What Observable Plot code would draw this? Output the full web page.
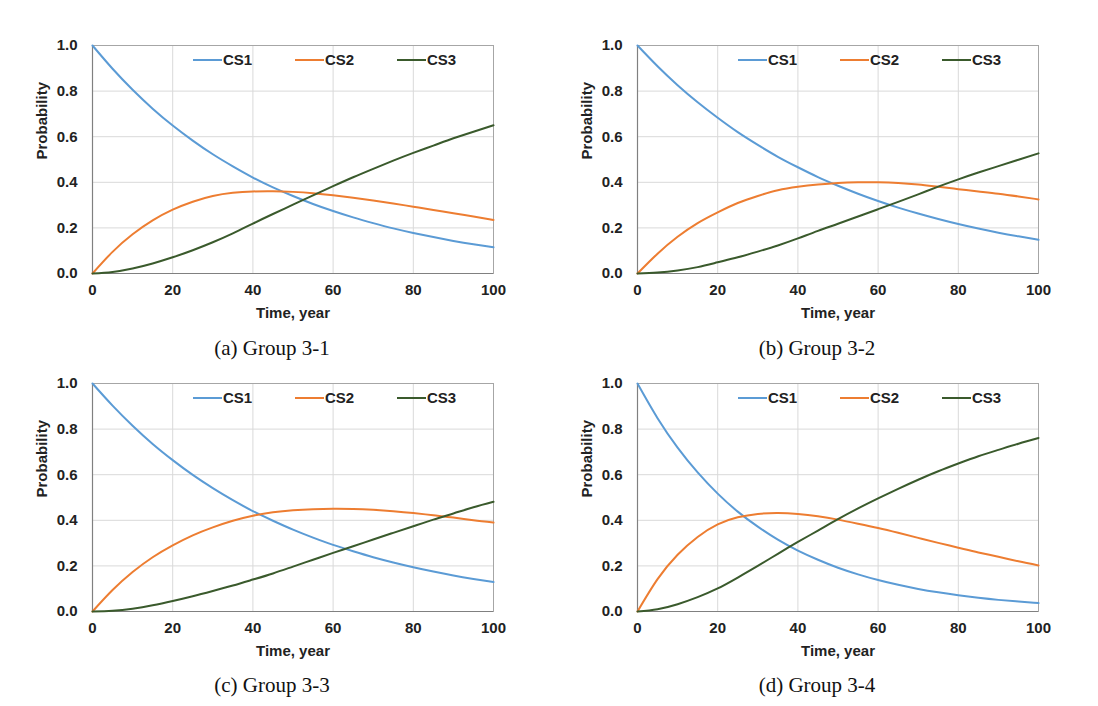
<!DOCTYPE html>
<html>
<head>
<meta charset="utf-8">
<script src="https://cdn.jsdelivr.net/npm/d3@7"></script>
<script src="https://cdn.jsdelivr.net/npm/@observablehq/plot@0.6"></script>
<style>
  html, body { margin: 0; padding: 0; background: #fff; width: 1098px; height: 706px; overflow: hidden; }
  .panel { position: absolute; }
  .panel svg text { font-weight: bold; }
  .legend { position: absolute; font-family: "Liberation Sans", Arial, sans-serif; font-size: 15px; font-weight: bold; color: #222; height: 16px; }
  .legend .item { position: absolute; top: 0; white-space: nowrap; display: flex; align-items: center; }
  .legend .sw { display: inline-block; width: 29px; height: 2px; margin-right: 1px; }
  .caption { position: absolute; font-family: "Liberation Serif", "DejaVu Serif", serif; font-size: 21px; color: #111; transform: translateX(-50%); white-space: pre; line-height: 1; }
</style>
</head>
<body>
<script>
// ---- data ----
const years = [0,5,10,15,20,25,30,35,40,45,50,55,60,65,70,75,80,85,90,95,100];
const seriesNames = ["CS1", "CS2", "CS3"];
const seriesColors = ["#5b9bd5", "#ed7d31", "#3a5a2c"];
const xTicks = [0, 20, 40, 60, 80, 100];
const yTicks = [0, 0.2, 0.4, 0.6, 0.8, 1.0];
const captions = ["(a) Group 3-1", "(b) Group 3-2", "(c) Group 3-3", "(d) Group 3-4"];

// Group 3-1
const g1_cs1 = [1.000,0.898,0.806,0.723,0.649,0.583,0.523,0.470,0.421,0.378,0.340,0.305,0.274,0.246,0.221,0.198,0.178,0.160,0.143,0.128,0.115];
const g1_cs2 = [0.000,0.095,0.172,0.233,0.280,0.315,0.340,0.354,0.360,0.361,0.358,0.352,0.343,0.332,0.320,0.307,0.293,0.279,0.264,0.250,0.235];
const g1_cs3 = [0.000,0.007,0.022,0.044,0.071,0.102,0.137,0.176,0.219,0.261,0.302,0.343,0.383,0.422,0.459,0.495,0.529,0.561,0.593,0.622,0.650];
// Group 3-2
const g2_cs1 = [1.000,0.909,0.826,0.751,0.683,0.620,0.564,0.512,0.466,0.423,0.385,0.350,0.318,0.289,0.263,0.239,0.217,0.197,0.179,0.163,0.148];
const g2_cs2 = [0.000,0.087,0.161,0.221,0.268,0.309,0.340,0.365,0.380,0.390,0.397,0.400,0.400,0.397,0.390,0.380,0.370,0.360,0.350,0.338,0.325];
const g2_cs3 = [0.000,0.004,0.013,0.028,0.049,0.071,0.096,0.123,0.154,0.187,0.218,0.250,0.282,0.314,0.347,0.381,0.413,0.443,0.471,0.499,0.527];
// Group 3-3
const g3_cs1 = [1.000,0.903,0.815,0.735,0.664,0.599,0.541,0.488,0.440,0.398,0.359,0.324,0.292,0.264,0.238,0.215,0.194,0.175,0.158,0.143,0.129];
const g3_cs2 = [0.000,0.094,0.173,0.238,0.290,0.334,0.369,0.398,0.420,0.435,0.444,0.449,0.451,0.450,0.446,0.440,0.432,0.422,0.412,0.400,0.390];
const g3_cs3 = [0.000,0.003,0.012,0.027,0.046,0.067,0.090,0.114,0.140,0.167,0.197,0.227,0.257,0.286,0.316,0.345,0.374,0.403,0.430,0.457,0.481];
// Group 3-4
const g4_cs1 = [1.000,0.848,0.719,0.610,0.517,0.438,0.372,0.315,0.267,0.227,0.192,0.163,0.138,0.117,0.099,0.084,0.071,0.060,0.051,0.044,0.037];
const g4_cs2 = [0.000,0.142,0.249,0.327,0.382,0.413,0.428,0.432,0.428,0.418,0.403,0.385,0.366,0.345,0.323,0.301,0.280,0.259,0.240,0.220,0.202];
const g4_cs3 = [0.000,0.010,0.032,0.063,0.101,0.149,0.200,0.253,0.305,0.355,0.405,0.452,0.496,0.538,0.578,0.615,0.649,0.681,0.709,0.736,0.761];

const groups = [
  [g1_cs1, g1_cs2, g1_cs3],
  [g2_cs1, g2_cs2, g2_cs3],
  [g3_cs1, g3_cs2, g3_cs3],
  [g4_cs1, g4_cs2, g4_cs3]
];

// ---- layout ----
const panelPos = [
  {left: 0,   top: 30},
  {left: 545, top: 30},
  {left: 0,   top: 368},
  {left: 545, top: 368}
];
const captionPos = [
  {x: 272, y: 338},
  {x: 817, y: 338},
  {x: 272, y: 675},
  {x: 817, y: 675}
];
const W = 520, H = 293, ML = 92, MR = 27, MT = 15, MB = 50;

groups.forEach((g, gi) => {
  const data = g.flatMap((vals, si) => years.map((t, i) => ({t, p: vals[i], series: seriesNames[si]})));
  const chart = Plot.plot({
    width: W, height: H,
    marginLeft: ML, marginRight: MR, marginTop: MT, marginBottom: MB,
    style: {fontFamily: "'Liberation Sans', Arial, sans-serif", fontSize: "15px", color: "#222", background: "white"},
    x: {domain: [0, 100]},
    y: {domain: [0, 1]},
    color: {domain: seriesNames, range: seriesColors},
    marks: [
      Plot.gridX(xTicks, {stroke: "#d9d9d9", strokeOpacity: 1}),
      Plot.gridY(yTicks, {stroke: "#d9d9d9", strokeOpacity: 1}),
      Plot.frame({stroke: "#a6a6a6"}),
      Plot.ruleY([0], {stroke: "#808080", strokeWidth: 1.2}),
      Plot.ruleX([0], {stroke: "#808080", strokeWidth: 1.2}),
      Plot.axisX(xTicks, {tickSize: 0, tickPadding: 11, label: null, fill: "#222"}),
      Plot.axisY(yTicks, {tickSize: 0, tickPadding: 15, tickFormat: d => d.toFixed(1), label: null, fill: "#222"}),
      Plot.line(data, {x: "t", y: "p", z: "series", stroke: "series", strokeWidth: 2, curve: "natural"}),
      Plot.text(["Time, year"], {frameAnchor: "bottom", lineAnchor: "middle", dy: 40, fill: "#222", fontWeight: "bold"}),
      Plot.text(["Probability"], {frameAnchor: "left", lineAnchor: "middle", dx: -50, rotate: -90, fill: "#222", fontWeight: "bold"})
    ]
  });
  const div = document.createElement("div");
  div.className = "panel";
  div.style.left = panelPos[gi].left + "px";
  div.style.top = panelPos[gi].top + "px";
  div.appendChild(chart);
  document.body.appendChild(div);

  // legend
  const leg = document.createElement("div");
  leg.className = "legend";
  leg.style.left = (panelPos[gi].left + ML + 101) + "px";
  leg.style.top = (panelPos[gi].top + MT + 6) + "px";
  seriesNames.forEach((name, si) => {
    const item = document.createElement("div");
    item.className = "item";
    item.style.left = (si * 102) + "px";
    const sw = document.createElement("span");
    sw.className = "sw";
    sw.style.background = seriesColors[si];
    const tx = document.createElement("span");
    tx.textContent = name;
    item.appendChild(sw);
    item.appendChild(tx);
    leg.appendChild(item);
  });
  document.body.appendChild(leg);

  const cap = document.createElement("div");
  cap.className = "caption";
  cap.style.left = captionPos[gi].x + "px";
  cap.style.top = captionPos[gi].y + "px";
  cap.textContent = captions[gi];
  document.body.appendChild(cap);
});
</script>
</body>
</html>
